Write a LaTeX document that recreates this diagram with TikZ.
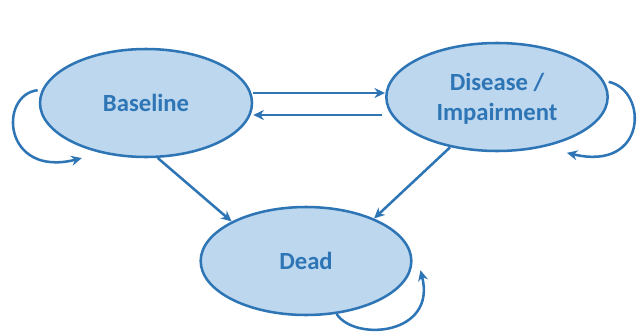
\documentclass[tikz,border=0pt]{standalone}
\usepackage{fontspec}
\setmainfont{Carlito}
\usepackage{xcolor}
\usetikzlibrary{arrows.meta}
\usetikzlibrary{shapes.geometric}
\definecolor{stateblue}{HTML}{2E75B6}
\definecolor{statefill}{HTML}{BDD7EE}
\tikzset{
  state/.style={ellipse,draw=stateblue,fill=statefill,line width=1.9pt,
    text=stateblue,font=\fontsize{18.5}{23}\selectfont\bfseries,align=center},
  arr/.style={-{Stealth[length=8pt,width=7.5pt]},draw=stateblue,line width=1.9pt}
}
\begin{document}
\begin{tikzpicture}[x=0.75pt,y=-0.75pt]
	 \useasboundingbox (0,0) rectangle (638,332);
	 \node (baseline) at (146,103) [state,minimum width=159pt,minimum height=81pt] {Baseline};
	 %
	 \node (disease) at (497,97) [state,minimum width=166pt,minimum height=81pt,text depth=0pt] {Disease /\\Impairment};
	 %
	 \node (dead) at (306,261) [state,minimum width=158pt,minimum height=81pt] {Dead};
	 %
	 %Baseline-Disease
	 \draw[arr] ([yshift=7.5pt]baseline.east) -- ([yshift=3pt]disease.west);
	 %
	 %Disease-Baseline
	 \draw[arr] ([xshift=-2pt,yshift=-13.5pt]disease.west) -- ([yshift=-9pt]baseline.east);
	 %
	 %Baseline-Dead
	 \draw[arr] (baseline.-78) -- (dead.152);
	 %
	 %Disease-Dead
	 \draw[arr] (disease.227) -- (dead.32);
	 %
	 %Schleifen
	 \draw[arr] ([xshift=-3pt]baseline.173) .. controls (-2,95) and (3,178) .. ([xshift=-6pt,yshift=-6pt]baseline.220);
	 %
	 \draw[arr] ([xshift=3pt]disease.8) .. controls (648,90) and (648,172) .. ([xshift=4pt,yshift=-8pt]disease.-35);
	 %
	 \draw[arr] (dead.-60) .. controls (355,342) and (437,335) .. ([xshift=7pt]dead.-5);
\end{tikzpicture}
\end{document}
